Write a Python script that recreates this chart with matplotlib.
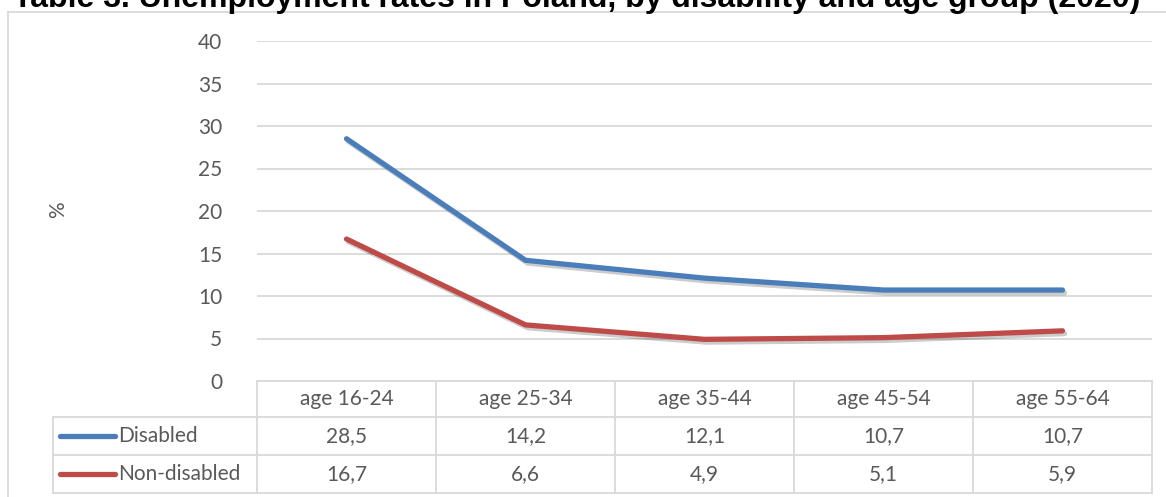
import matplotlib
matplotlib.use("Agg")
import matplotlib.pyplot as plt
import matplotlib.patheffects as pe
from matplotlib.lines import Line2D

plt.rcParams["font.family"] = ["Lato", "DejaVu Sans"]

title = "Table 3. Unemployment rates in Poland, by disability and age group (2020)"
age_groups = ["age 16-24", "age 25-34", "age 35-44", "age 45-54", "age 55-64"]
disabled = [28.5, 14.2, 12.1, 10.7, 10.7]
non_disabled = [16.7, 6.6, 4.9, 5.1, 5.9]
series_names = ["Disabled", "Non-disabled"]
colors = ["#4A7EBB", "#BE4B48"]

W, H = 1166, 497
fig = plt.figure(figsize=(W / 100, H / 100), dpi=100)
txt_c = "#595959"
fs = 15

# plot area in pixels: x 257..1152, y 41..381
px_l, px_r, px_t, px_b = 257, 1152, 41, 381
ax = fig.add_axes([px_l / W, 1 - px_b / H, (px_r - px_l) / W, (px_b - px_t) / H])
ax_h = px_b - px_t
col_w = (px_r - px_l) / len(age_groups)

x = [i + 0.5 for i in range(len(age_groups))]
for vals, c in zip([disabled, non_disabled], colors):
    ax.plot(x, vals, color=c, lw=3.8, solid_capstyle="round", solid_joinstyle="round",
            path_effects=[pe.SimpleLineShadow(offset=(1.5, -2), shadow_color="#000000", alpha=0.2),
                          pe.Normal()], zorder=3)

ax.set_xlim(0, len(age_groups))
ax.set_ylim(0, 40)
ax.set_yticks(range(0, 41, 5))
ax.set_xticks([])
ax.grid(axis="y", color="#D9D9D9", lw=1.3)
ax.set_axisbelow(True)
for s in ax.spines.values():
    s.set_visible(False)
ax.tick_params(axis="y", length=0, pad=25, labelsize=fs, labelcolor=txt_c)

fig.text(58 / W, 1 - 210 / H, "%", rotation=90, ha="center", va="center",
         fontsize=fs, color=txt_c)

# data table under the axis
tr = ax.get_xaxis_transform()
grid_c = "#D9D9D9"
row_y = [0, 36, 74, 112]  # pixel offsets below the x axis
yf = [-r / ax_h for r in row_y]
left_x = -(px_l - 53) / col_w

def hline(y, x0, x1):
    ax.add_line(Line2D([x0, x1], [y, y], transform=tr, color=grid_c, lw=1.3, clip_on=False))

def vline(xv, y0, y1):
    ax.add_line(Line2D([xv, xv], [y0, y1], transform=tr, color=grid_c, lw=1.3, clip_on=False))

hline(yf[0], 0, len(age_groups))
for y in yf[1:]:
    hline(y, left_x, len(age_groups))
for i in range(len(age_groups) + 1):
    vline(i, yf[0], yf[3])
vline(left_x, yf[1], yf[3])

for i, g in enumerate(age_groups):
    ax.text(i + 0.5, (yf[0] + yf[1]) / 2, g, transform=tr, ha="center", va="center",
            fontsize=fs, color=txt_c)
for r, (name, vals, c) in enumerate(zip(series_names, [disabled, non_disabled], colors)):
    yc = (yf[r + 1] + yf[r + 2]) / 2
    for i, v in enumerate(vals):
        ax.text(i + 0.5, yc, f"{v:.1f}".replace(".", ","), transform=tr, ha="center",
                va="center", fontsize=fs, color=txt_c)
    k0 = -(px_l - 60) / col_w
    k1 = -(px_l - 115) / col_w
    ax.add_line(Line2D([k0, k1], [yc, yc], transform=tr, color=c, lw=3.8,
                       solid_capstyle="round", clip_on=False))
    ax.text(-(px_l - 118) / col_w, yc, name, transform=tr, ha="left", va="center",
            fontsize=fs, color=txt_c)

# chart frame
fig.add_artist(Line2D([8 / W, 8 / W], [0, 1 - 12 / H], transform=fig.transFigure,
                      color=grid_c, lw=1.3))
fig.add_artist(Line2D([8 / W, 1], [1 - 12 / H, 1 - 12 / H], transform=fig.transFigure,
                      color=grid_c, lw=1.3))

# title sits mostly above the image edge, as in the source crop
fig.text(13 / W, 1 - 7 / H, title, ha="left", va="baseline",
         fontsize=23, fontweight="bold", family="Liberation Sans")

fig.savefig("out.png", dpi=100)
